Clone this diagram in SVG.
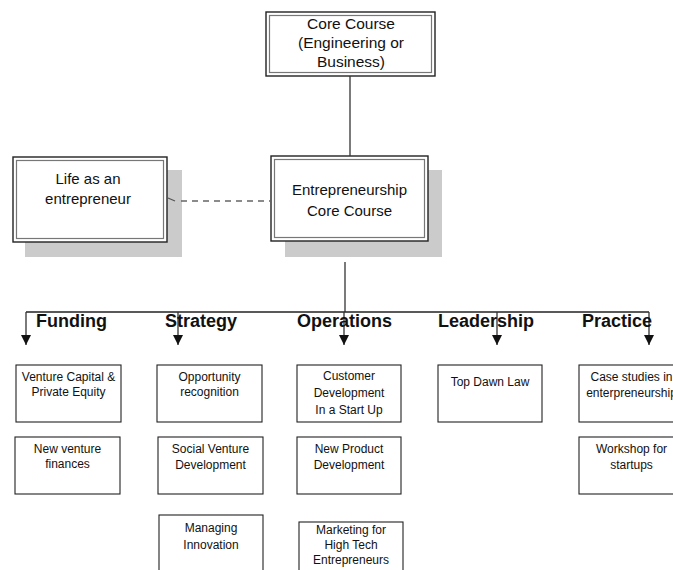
<svg xmlns="http://www.w3.org/2000/svg" width="673" height="570" viewBox="0 0 673 570">
<defs>
<style>
text{font-family:"Liberation Sans",Arial,sans-serif;fill:#111;text-anchor:middle}
.big{font-size:15px}
.sm{font-size:12px}
.hd{font-size:18px;font-weight:bold;text-anchor:start}
.outer{fill:#fff;stroke:#222;stroke-width:1.4}
.inner{fill:none;stroke:#777;stroke-width:1.2}
.shadow{fill:#cbcbcb}
.box{fill:#fff;stroke:#222;stroke-width:1.1}
.ln{stroke:#333;stroke-width:1.3;fill:none}
.bar{stroke:#222;stroke-width:1.6;fill:none}
.dash{stroke:#666;stroke-width:1.3;stroke-dasharray:6 5;fill:none}
</style>
<marker id="tri" markerWidth="10" markerHeight="10" refX="10" refY="5" orient="auto" markerUnits="userSpaceOnUse" viewBox="0 0 10 10">
<path d="M0,0 L10,5 L0,10 Z" fill="#111"/>
</marker>
</defs>

<g id="core-course">
<rect class="outer" x="266" y="12" width="169" height="64"/>
<rect class="inner" x="269.5" y="15.5" width="162" height="57"/>
<text class="big" x="351" y="29" style="font-size:15.5px">Core Course</text>
<text class="big" x="351" y="48" style="font-size:15.5px">(Engineering or</text>
<text class="big" x="351" y="67" style="font-size:15.5px">Business)</text>
</g>

<g id="life-entrepreneur">
<rect class="shadow" x="25" y="170" width="157" height="87"/>
<rect class="outer" x="13" y="157" width="154" height="85"/>
<rect class="inner" x="16.5" y="160.5" width="147" height="78"/>
<text class="big" x="88" y="184">Life as an</text>
<text class="big" x="88" y="204">entrepreneur</text>
</g>

<g id="entrepreneurship-core">
<rect class="shadow" x="285" y="170" width="157" height="87"/>
<rect class="outer" x="271" y="156" width="157" height="85"/>
<rect class="inner" x="274.5" y="159.5" width="150" height="78"/>
<text class="big" x="349.5" y="195">Entrepreneurship</text>
<text class="big" x="349.5" y="216">Core Course</text>
</g>

<g id="connectors">
<line class="ln" x1="350" y1="76" x2="350" y2="156"/>
<path class="ln" d="M168,198 L175,201" style="stroke:#555"/>
<path class="dash" d="M181,201 L271,201"/>
<line class="ln" x1="345" y1="262" x2="345" y2="312"/>
<line class="bar" x1="26" y1="312" x2="649" y2="312"/>
<line class="ln" x1="26" y1="312" x2="26" y2="345" marker-end="url(#tri)"/>
<line class="ln" x1="178" y1="312" x2="178" y2="345" marker-end="url(#tri)"/>
<line class="ln" x1="344" y1="312" x2="344" y2="345" marker-end="url(#tri)"/>
<line class="ln" x1="497" y1="312" x2="497" y2="345" marker-end="url(#tri)"/>
<line class="ln" x1="649" y1="312" x2="649" y2="345" marker-end="url(#tri)"/>
</g>

<g id="headings">
<text class="hd" x="36" y="327">Funding</text>
<text class="hd" x="165" y="327">Strategy</text>
<text class="hd" x="297" y="327">Operations</text>
<text class="hd" x="438" y="327">Leadership</text>
<text class="hd" x="582" y="327">Practice</text>
</g>

<g id="venture-capital">
<rect class="box" x="16" y="365" width="105" height="57"/>
<text class="sm" x="68.5" y="381">Venture Capital &amp;</text>
<text class="sm" x="68.5" y="396">Private Equity</text>
</g>
<g id="new-venture">
<rect class="box" x="15" y="437" width="105" height="57"/>
<text class="sm" x="67.5" y="453">New venture</text>
<text class="sm" x="67.5" y="468">finances</text>
</g>

<g id="opportunity">
<rect class="box" x="157" y="365" width="105" height="57"/>
<text class="sm" x="209.5" y="381">Opportunity</text>
<text class="sm" x="209.5" y="396">recognition</text>
</g>
<g id="social-venture">
<rect class="box" x="158" y="437" width="105" height="57"/>
<text class="sm" x="210.5" y="453">Social Venture</text>
<text class="sm" x="210.5" y="469">Development</text>
</g>
<g id="managing-innovation">
<rect class="box" x="159" y="515" width="104" height="70"/>
<text class="sm" x="211" y="532">Managing</text>
<text class="sm" x="211" y="549">Innovation</text>
</g>

<g id="customer-dev">
<rect class="box" x="297" y="365" width="104" height="57"/>
<text class="sm" x="349" y="380">Customer</text>
<text class="sm" x="349" y="397">Development</text>
<text class="sm" x="349" y="414">In a Start Up</text>
</g>
<g id="new-product">
<rect class="box" x="297" y="437" width="104" height="57"/>
<text class="sm" x="349" y="453">New Product</text>
<text class="sm" x="349" y="469">Development</text>
</g>
<g id="marketing">
<rect class="box" x="299" y="522" width="104" height="70"/>
<text class="sm" x="351" y="534">Marketing for</text>
<text class="sm" x="351" y="549">High Tech</text>
<text class="sm" x="351" y="564">Entrepreneurs</text>
</g>

<g id="top-dawn">
<rect class="box" x="438" y="365" width="104" height="57"/>
<text class="sm" x="490" y="386">Top Dawn Law</text>
</g>

<g id="case-studies">
<rect class="box" x="579" y="365" width="105" height="57"/>
<text class="sm" x="631.5" y="381">Case studies in</text>
<text class="sm" x="631.5" y="397">enterpreneurship</text>
</g>
<g id="workshop">
<rect class="box" x="579" y="437" width="105" height="57"/>
<text class="sm" x="631.5" y="453">Workshop for</text>
<text class="sm" x="631.5" y="469">startups</text>
</g>
</svg>
